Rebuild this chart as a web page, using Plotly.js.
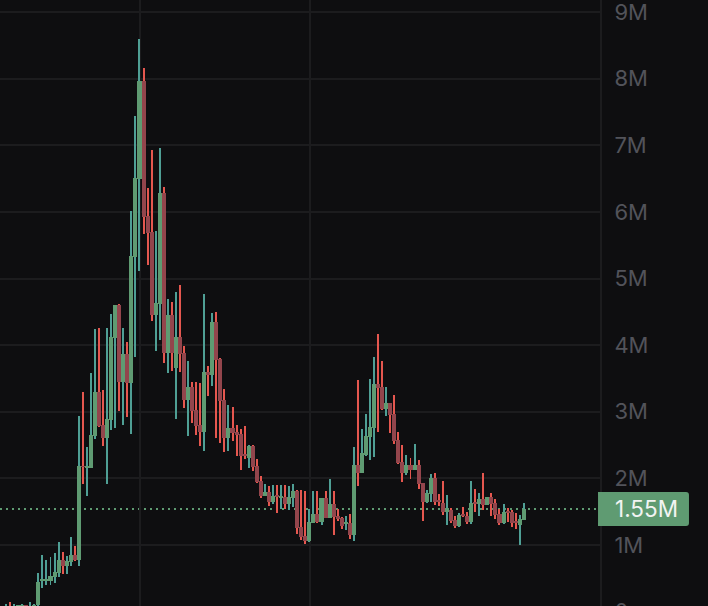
<!DOCTYPE html>
<html>
<head>
<meta charset="utf-8">
<script src="https://cdn.plot.ly/plotly-3.0.1.min.js"></script>
<style>html,body{margin:0;padding:0;background:#0e0e10;overflow:hidden;width:708px;height:606px}#chart{margin-top:-40px}</style>
</head>
<body>
<div id="chart"></div>
<script>
const open = [.05,.09,.03,.05,.05,.098,.06,.08,.098,.458,.458,.458,.518,.578,.773,.683,.743,.848,.773,2.185,2.155,2.155,2.635,3.296,2.8,2.605,2.875,4.107,4.602,3.446,3.866,3.431,5.323,6.494,7.965,5.938,5.698,4.452,4.617,6.284,3.881,4.452,3.656,4.122,3.881,3.176,3.371,3.026,2.8,2.695,3.596,3.551,4.347,3.791,3.176,2.605,2.755,2.695,2.665,2.365,2.305,2.485,2.185,1.959,1.734,1.794,1.644,1.749,1.704,1.719,1.614,1.704,1.809,1.269,1.134,1.059,1.329,1.464,1.344,1.704,1.404,1.614,1.434,1.404,1.314,1.329,1.149,2.2,2.08,2.35,2.62,2.755,3.416,3.371,3.041,3.131,2.965,2.575,2.245,2.08,2.2,2.125,2.2,1.929,1.644,1.764,2.005,1.674,1.629,1.494,1.524,1.374,1.284,1.464,1.434,1.344,1.644,1.614,1.689,1.599,1.719,1.629,1.464,1.329,1.509,1.494,1.359,1.299,1.374];
const high = [.11,.14,.11,.09,.11,.10,.14,.11,.578,.848,.773,.818,.878,1.044,.893,.833,1.119,.983,2.935,3.296,2.47,3.581,4.242,4.257,3.326,4.257,4.467,4.602,4.617,4.257,4.047,6.014,7.44,8.596,8.161,6.359,6.929,5.713,6.959,6.374,4.692,4.647,4.797,4.902,3.986,3.761,3.446,3.446,3.431,4.767,3.686,4.482,4.497,3.806,3.341,3.101,3.071,2.8,2.74,2.785,2.5,2.5,2.29,2.035,1.914,1.884,1.899,1.899,1.899,1.899,1.884,1.914,1.824,1.824,1.809,1.539,1.809,1.809,1.704,1.809,1.989,1.809,1.539,1.419,1.434,1.464,2.47,3.476,2.74,2.965,3.491,3.821,4.167,3.761,3.371,3.131,3.251,2.695,2.5,2.35,2.305,2.515,2.275,1.929,1.824,2.065,2.08,1.764,1.959,1.749,1.554,1.434,1.479,1.569,1.494,1.959,1.839,1.779,2.08,1.719,1.779,1.689,1.539,1.614,1.554,1.524,1.479,1.449,1.629];
const low = [.03,.03,.0,.03,.03,.04,.03,.03,.08,.353,.398,.398,.428,.518,.563,.563,.683,.758,.683,1.914,1.734,2.155,2.59,2.77,2.485,1.914,2.725,2.755,3.01,2.8,2.92,2.665,3.821,5.113,5.668,5.203,4.362,3.911,4.077,3.731,3.581,3.611,2.89,3.596,3.056,2.635,2.83,2.65,2.485,2.41,3.236,3.386,2.605,2.53,2.395,2.41,2.56,2.335,2.125,2.29,2.155,2.11,1.929,1.704,1.734,1.584,1.614,1.479,1.539,1.539,1.524,1.569,1.164,1.074,1.014,1.044,1.329,1.329,1.299,1.404,1.404,1.149,1.359,1.239,1.224,1.089,1.059,1.884,2.08,2.335,2.275,2.32,2.695,3.026,2.935,2.68,2.515,2.215,1.944,2.05,1.989,2.125,1.839,1.359,1.629,1.644,1.599,1.584,1.449,1.299,1.329,1.254,1.269,1.419,1.314,1.314,1.494,1.434,1.524,1.599,1.434,1.389,1.299,1.314,1.344,1.269,1.239,.998,1.374];
const close = [.07,.06,.07,.098,.098,.06,.09,.10,.443,.488,.488,.533,.593,.773,.683,.758,.848,.773,2.185,2.17,2.185,2.65,3.296,2.785,2.605,2.89,4.122,4.602,3.446,3.866,3.431,5.338,6.509,7.965,5.923,5.683,4.452,4.632,6.284,3.881,4.452,3.881,4.122,3.866,3.176,3.371,3.01,2.785,2.695,3.596,3.551,4.347,3.776,3.161,2.605,2.755,2.68,2.65,2.335,2.335,2.485,2.17,1.944,1.734,1.794,1.644,1.734,1.719,1.734,1.614,1.719,1.809,1.254,1.119,1.059,1.344,1.464,1.344,1.704,1.404,1.614,1.419,1.389,1.284,1.344,1.149,2.2,2.08,2.38,2.635,2.77,3.416,3.356,3.041,3.131,2.95,2.56,2.23,2.08,2.2,2.125,2.2,1.914,1.644,1.779,2.005,1.644,1.644,1.494,1.554,1.359,1.284,1.449,1.434,1.344,1.629,1.614,1.689,1.599,1.719,1.614,1.449,1.329,1.494,1.479,1.329,1.329,1.389,1.539];

const yTicks = [0,1,2,3,4,5,6,7,8,9];
const yLabels = ['0','1M','2M','3M','4M','5M','6M','7M','8M','9M'];
const timeTicks = [33.1,75.15];
const lastPrice = 1.54;
const lastLabel = '1.55M';

const idx = open.map((_, i) => i);
const ups = idx.filter(i => close[i] >= open[i]);
const downs = idx.filter(i => close[i] < open[i]);

function wick(ids, color, name){
  return {type:'bar', name, x:ids, y:ids.map(i=>high[i]-low[i]), base:ids.map(i=>low[i]),
    width:0.49, marker:{color, line:{width:0}}, hoverinfo:'skip', showlegend:false};
}
function body(ids, color, name){
  return {type:'bar', name, x:ids, y:ids.map(i=>Math.abs(close[i]-open[i])), base:ids.map(i=>Math.min(open[i],close[i])),
    width:1, marker:{color, line:{width:0}}, hoverinfo:'skip', showlegend:false};
}
const data = [
  wick(ups,'#4f9f95','up wick'),
  wick(downs,'#e5574f','down wick'),
  body(ups,'#5f9b72','up body'),
  body(downs,'#93454c','down body')
];

const layout = {
  width:708, height:680,
  margin:{l:0,r:108,t:40,b:0,pad:0},
  paper_bgcolor:'#0e0e10', plot_bgcolor:'#0e0e10',
  barmode:'overlay', bargap:0, showlegend:false,
  font:{family:'Inter, Roboto, sans-serif', color:'#52535a', size:22},
  xaxis:{range:[-1.483,146.85], tickmode:'array', tickvals:timeTicks, showticklabels:false,
    ticks:'', showgrid:true, gridcolor:'#1c1c1e', gridwidth:2, zeroline:false, showline:false},
  yaxis:{side:'right', range:[-0.428,9.182], tickmode:'array', tickvals:yTicks, ticktext:yLabels,
    ticks:'', ticklabelstandoff:8, showgrid:true, gridcolor:'#1c1c1e', gridwidth:2, zeroline:false,
    showline:true, linecolor:'#1c1c1e', linewidth:2, tickfont:{family:'Inter, Roboto, sans-serif', size:22, color:'#52535a'}},
  shapes:[
    {type:'line', layer:'below', xref:'paper', yref:'y', x0:0, x1:0.995, y0:lastPrice, y1:lastPrice,
      line:{color:'#5f9b72', width:2, dash:'2px,4px'}},
    {type:'path', layer:'above', xref:'paper', yref:'y', fillcolor:'#5f9b72', line:{width:0},
      path:'M 0.9967,1.794 L 1.1433,1.794 Q 1.1483,1.794 1.1483,1.749 L 1.1483,1.329 Q 1.1483,1.284 1.1433,1.284 L 0.9967,1.284 Z'}
  ],
  annotations:[
    {xref:'paper', yref:'y', x:1.0767, y:lastPrice, text:lastLabel, showarrow:false,
      font:{family:'Inter, Roboto, sans-serif', size:22.5, color:'#f2f4f2'}, xanchor:'center', yanchor:'middle'}
  ]
};
Plotly.newPlot('chart', data, layout, {displayModeBar:false, staticPlot:true});
</script>
</body>
</html>
